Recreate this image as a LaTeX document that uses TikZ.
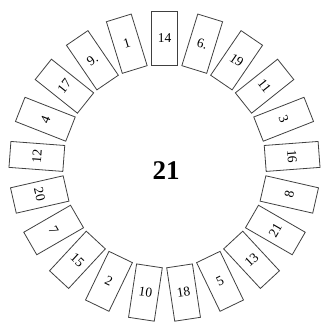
\documentclass[tikz,border=0pt]{standalone}
\usepackage{fontspec}
\setmainfont{Liberation Serif}
\usetikzlibrary{calc}
\begin{document}
\begin{tikzpicture}[x=1pt,y=1pt,
  slot/.style={draw=black!75, line width=0.8pt, minimum width=26pt, minimum height=54pt, inner sep=0pt, font=\fontsize{13.5}{14}\selectfont},
  hub/.style={font=\fontsize{27}{30}\selectfont\bfseries, inner sep=0pt}]
\useasboundingbox (0,0) rectangle (321,324);
\coordinate (c) at (164.5,158);
\node[hub] (centre) at ($(c)+(1.5,-5)$) {21};
\foreach \t [count=\i from 0] in {14,6.,19,11,3,16,8,21,13,5,18,10,2,15,7,20,12,4,17,9.,1}{
  \pgfmathsetmacro\ang{90-\i*360/21}
  \pgfmathsetmacro\rot{(\i>5 && \i<16) ? \ang+90 : \ang-90}
  \node[slot, rotate=\rot] (b\i) at ($(c)+(\ang:128)$) {\t};
}
\end{tikzpicture}
\end{document}
